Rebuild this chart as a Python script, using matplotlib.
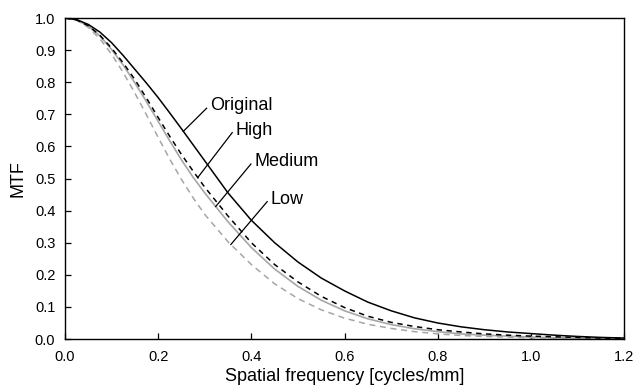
import matplotlib
matplotlib.use("Agg")
import matplotlib.pyplot as plt
import numpy as np

plt.rcParams['font.family'] = ['Liberation Sans', 'DejaVu Sans']

# spatial frequency [cycles/mm]
freq = [0.000, 0.025, 0.050, 0.075, 0.100, 0.125, 0.150, 0.175, 0.200, 0.225, 0.250, 0.275, 0.300,
        0.35, 0.40, 0.45, 0.50, 0.55, 0.60, 0.65, 0.70, 0.75, 0.80, 0.85, 0.90, 0.95,
        1.00, 1.05, 1.10, 1.15, 1.20]

mtf_original = [1.000, 0.995, 0.980, 0.956, 0.923, 0.883, 0.840, 0.797, 0.752, 0.704, 0.655, 0.605, 0.555,
                0.455, 0.370, 0.300, 0.240, 0.190, 0.150, 0.115, 0.088, 0.066, 0.050, 0.038, 0.029, 0.022,
                0.017, 0.012, 0.008, 0.005, 0.003]
mtf_high = [1.000, 0.994, 0.976, 0.946, 0.906, 0.860, 0.808, 0.750, 0.690, 0.631, 0.575, 0.523, 0.473,
            0.383, 0.300, 0.232, 0.178, 0.133, 0.098, 0.071, 0.052, 0.039, 0.029, 0.022, 0.016, 0.012,
            0.009, 0.007, 0.005, 0.003, 0.002]
mtf_medium = [1.000, 0.994, 0.975, 0.944, 0.902, 0.853, 0.798, 0.739, 0.678, 0.617, 0.558, 0.504, 0.455,
              0.365, 0.285, 0.218, 0.164, 0.121, 0.088, 0.063, 0.045, 0.032, 0.023, 0.016, 0.012, 0.009,
              0.006, 0.004, 0.003, 0.002, 0.001]
mtf_low = [1.000, 0.993, 0.971, 0.935, 0.887, 0.830, 0.766, 0.698, 0.628, 0.560, 0.497, 0.440, 0.388,
           0.303, 0.232, 0.172, 0.126, 0.091, 0.065, 0.046, 0.033, 0.023, 0.016, 0.011, 0.008, 0.006,
           0.004, 0.003, 0.002, 0.001, 0.001]

fig = plt.figure(figsize=(6.33, 3.89), dpi=100)
ax = fig.add_axes([0.1027, 0.1285, 0.8831, 0.8252])

ax.plot(freq, mtf_low, color='#a6a6a6', lw=1.1, dashes=(4, 3))
ax.plot(freq, mtf_medium, color='#a6a6a6', lw=1.2)
ax.plot(freq, mtf_high, color='black', lw=1.1, dashes=(3.5, 3))
ax.plot(freq, mtf_original, color='black', lw=1.1)

# label -> (text position, point on curve)
labels = [
    ("Original", mtf_original, (0.304, 0.719), 0.254),
    ("High", mtf_high, (0.359, 0.643), 0.285),
    ("Medium", mtf_medium, (0.399, 0.545), 0.3235),
    ("Low", mtf_low, (0.434, 0.428), 0.356),
]
for name, series, (tx, ty), fx in labels:
    fy = np.interp(fx, freq, series)
    ax.plot([tx, fx], [ty, fy], color='black', lw=0.9)
    ax.text(tx + 0.008, ty + 0.008, name, fontsize=13, ha='left', va='center')

ax.set_xlim(0, 1.2)
ax.set_ylim(0, 1.0)
ax.set_xticks(np.arange(0, 1.21, 0.2))
ax.set_yticks(np.arange(0, 1.01, 0.1))
ax.xaxis.set_major_formatter(matplotlib.ticker.FormatStrFormatter('%.1f'))
ax.yaxis.set_major_formatter(matplotlib.ticker.FormatStrFormatter('%.1f'))
ax.tick_params(direction='in', length=4, width=0.9, labelsize=10.5)
ax.tick_params(axis='x', pad=8)
ax.tick_params(axis='y', pad=7)
for s in ax.spines.values():
    s.set_linewidth(1.0)

ax.set_xlabel('Spatial frequency [cycles/mm]', fontsize=13, labelpad=3)
ax.set_ylabel('MTF', fontsize=13, labelpad=6)

fig.savefig('out.png', dpi=100)
